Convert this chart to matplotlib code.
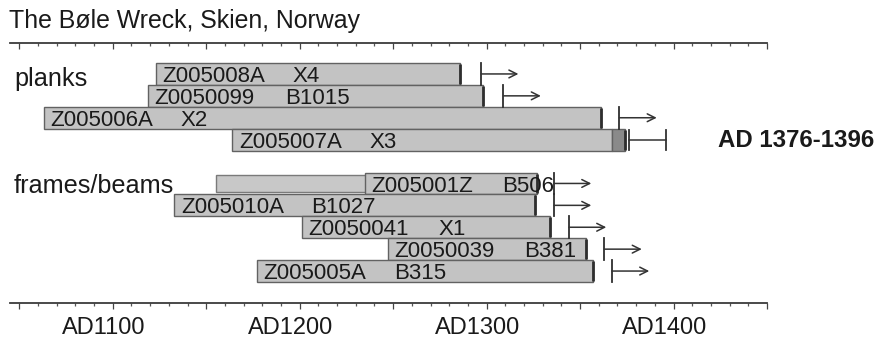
import matplotlib
matplotlib.use("Agg")
import matplotlib.pyplot as plt
import matplotlib.transforms as mtransforms
from matplotlib.ticker import MultipleLocator, FixedLocator

plt.rcParams['font.family'] = ['Liberation Sans', 'DejaVu Sans']

# ---------------- data ----------------
title = "The Bøle Wreck, Skien, Norway"
group_labels = ["planks", "frames/beams"]
result_label = "AD 1376-1396"

sample_ids = ["Z005008A", "Z0050099", "Z005006A", "Z005007A",
              "Z005001Z", "Z005010A", "Z0050041", "Z0050039", "Z005005A"]
sample_codes = ["X4", "B1015", "X2", "X3", "B506", "B1027", "X1", "B381", "B315"]
sample_rows = [0, 1, 2, 3, 5, 6, 7, 8, 9]
first_year = [1123, 1119, 1063, 1164, 1235, 1133, 1201, 1247, 1177]
last_year = [1286, 1298, 1361, 1374, 1327, 1326, 1334, 1353, 1357]

# felling estimates (terminus post quem) per sample: start mark and arrow end
estimate_rows = [0, 1, 2, 5, 6, 7, 8, 9]
estimate_start = [1297, 1309, 1371, 1336, 1336, 1344, 1363, 1367]
estimate_end = [1317, 1329, 1391, 1356, 1356, 1364, 1383, 1387]

# sapwood section (row of Z005007A)
sapwood_row = 3
sapwood_start = 1367
sapwood_end = 1374

# felling date range
felling_row = 3
felling_range = [1376, 1396]

# extra undated section preceding Z005001Z
extra_row = 5
extra_start = 1155
extra_end = 1236

axis_range = [1045, 1450]
major_step = 50
minor_step = 10
label_years = [1100, 1200, 1300, 1400]

# ---------------- figure ----------------
W, H = 878, 337
fig = plt.figure(figsize=(W / 100, H / 100), dpi=100)
fig.patch.set_facecolor("white")

ax_top_px, ax_bot_px, ax_left_px, ax_right_px = 43, 303, 10, 767
ax = fig.add_axes([ax_left_px / W, (H - ax_bot_px) / H,
                   (ax_right_px - ax_left_px) / W, (ax_bot_px - ax_top_px) / H])

row_px = 21.9
row0_center = 73.95
ax.set_xlim(*axis_range)
ax.set_ylim((ax_bot_px - row0_center) / row_px, -(row0_center - ax_top_px) / row_px)

fill = "#c3c3c3"
edge = "#626262"
dark = "#2e2e2e"
ink = "#1a1a1a"

# extra bar first (underneath)
ax.barh(extra_row, extra_end - extra_start, left=extra_start, height=0.78,
        color="#c8c8c8", edgecolor="#7a7a7a", linewidth=1.0, zorder=2)

for sid, code, row, a, b in zip(sample_ids, sample_codes, sample_rows, first_year, last_year):
    if row == sapwood_row:
        ax.barh(row, sapwood_start - a, left=a, height=1.0, color=fill,
                edgecolor=edge, linewidth=1.0, zorder=3)
        ax.barh(row, sapwood_end - sapwood_start, left=sapwood_start, height=1.0,
                color="#8a8a8a", edgecolor=edge, linewidth=1.0, zorder=3)
    else:
        ax.barh(row, b - a, left=a, height=1.0, color=fill, edgecolor=edge,
                linewidth=1.0, zorder=3)
    ax.plot([b, b], [row - 0.45, row + 0.45], color=dark, lw=2.0,
            solid_capstyle="butt", zorder=4)
    ax.annotate(sid, xy=(a, row), xytext=(4.6, -5.8), textcoords="offset points",
                ha="left", va="baseline", fontsize=16, color=ink, zorder=5)
    ax.annotate(code, xy=(a, row), xytext=(98.6, -5.8), textcoords="offset points",
                ha="left", va="baseline", fontsize=16, color=ink, zorder=5)

for row, s, e in zip(estimate_rows, estimate_start, estimate_end):
    ax.plot([s, s], [row - 0.5, row + 0.5], color="#2e2e2e", lw=1.3, zorder=4)
    ax.annotate("", xy=(e, row), xytext=(s, row),
                arrowprops=dict(arrowstyle="->", lw=1.1, color="#333333",
                                shrinkA=0, shrinkB=0, mutation_scale=14), zorder=4)

f0, f1 = felling_range
ax.plot([f0, f1], [felling_row, felling_row], color="#333333", lw=1.1, zorder=4)
for f in felling_range:
    ax.plot([f, f], [felling_row - 0.45, felling_row + 0.45], color="#333333",
            lw=1.3, zorder=4)

# axes styling
for side in ["left", "right", "top"]:
    ax.spines[side].set_visible(False)
ax.spines["bottom"].set_color("#3a3a3a")
ax.spines["bottom"].set_linewidth(1.3)
ax.set_yticks([])
major_ticks = list(range(axis_range[0] + 5, axis_range[1] + 1, major_step))
ax.xaxis.set_major_locator(FixedLocator(major_ticks))
ax.xaxis.set_minor_locator(MultipleLocator(minor_step))
ax.tick_params(axis="x", which="major", direction="out", length=4.3, width=0.9,
               color="#444444", labelbottom=False)
ax.tick_params(axis="x", which="minor", direction="out", length=2.3, width=0.9,
               color="#555555")

sec = ax.secondary_xaxis("top")
sec.spines["top"].set_color("#3a3a3a")
sec.spines["top"].set_linewidth(1.3)
sec.xaxis.set_major_locator(FixedLocator(major_ticks))
sec.xaxis.set_minor_locator(MultipleLocator(minor_step))
sec.tick_params(axis="x", which="major", direction="in", length=4.3, width=0.9,
                color="#444444", labeltop=False)
sec.tick_params(axis="x", which="minor", direction="in", length=2.3, width=0.9,
                color="#555555")

lab_trans = mtransforms.blended_transform_factory(ax.transData, ax.transAxes) + \
    mtransforms.ScaledTranslation(-9 / 100, -30.5 / 100, fig.dpi_scale_trans)
for yr in label_years:
    ax.text(yr, 0, f"AD{yr}", transform=lab_trans, ha="center", va="baseline",
            fontsize=17, color=ink, clip_on=False)

# texts
def figtext(xpx, ypx, s, **kw):
    fig.text(xpx / W, 1 - ypx / H, s, va="baseline", ha="left", color=ink, **kw)

figtext(9, 28, title, fontsize=17.9)
figtext(14, 86, group_labels[0], fontsize=18.2)
figtext(14, 193, group_labels[1], fontsize=18.2)
figtext(718, 147, result_label, fontsize=17.3, fontweight="bold")

fig.savefig("out.png", dpi=100, facecolor="white")
